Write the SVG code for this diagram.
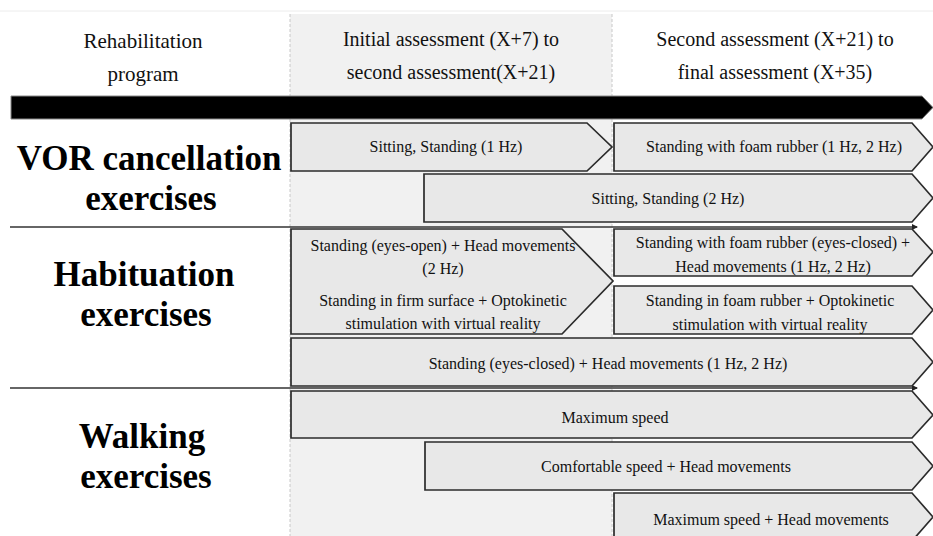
<svg xmlns="http://www.w3.org/2000/svg" width="933" height="536" viewBox="0 0 933 536">
<style>
.hdr{font-family:"Liberation Serif","Times New Roman",serif;font-size:20px;fill:#111;text-anchor:middle}
.lbl{font-family:"Liberation Serif","Times New Roman",serif;font-size:35px;font-weight:bold;fill:#000;text-anchor:middle}
.t{font-family:"Liberation Serif","Times New Roman",serif;font-size:16px;fill:#111;text-anchor:middle}
.chev{fill:#e8e8e8;stroke:#2b2b2b;stroke-width:1.7}
.sep{stroke:#333;stroke-width:1.6;fill:none}
.dash{stroke:#c8c8c8;stroke-width:1;stroke-dasharray:3 2;fill:none}
</style>
<defs>
<marker id="ah" viewBox="0 0 6 6" refX="5" refY="3" markerWidth="6" markerHeight="6" markerUnits="userSpaceOnUse" orient="auto">
<path d="M0,0 L6,3 L0,6 z" fill="#222"/>
</marker>
</defs>
<rect x="0" y="0" width="933" height="536" fill="#fff"/>
<line x1="0" y1="11" x2="933" y2="11" stroke="#ececec" stroke-width="1"/>
<rect x="290" y="14" width="322" height="522" fill="#f1f1f1"/>
<line class="dash" x1="290" y1="14" x2="290" y2="536"/>
<line class="dash" x1="612" y1="14" x2="612" y2="536"/>

<g id="header">
<text class="hdr" x="143" y="48" style="font-size:21px">Rehabilitation</text>
<text class="hdr" x="143" y="81" style="font-size:21px">program</text>
<text class="hdr" x="451" y="46">Initial assessment (X+7) to</text>
<text class="hdr" x="451" y="79">second assessment(X+21)</text>
<text class="hdr" x="775" y="46">Second assessment (X+21) to</text>
<text class="hdr" x="775" y="79">final assessment (X+35)</text>
</g>

<g id="timeline">
<polygon points="11,96 922,96 933,107.5 922,119 11,119" fill="#000" stroke="#888" stroke-width="1"/>
</g>

<g id="connectors">
<line class="sep" x1="10" y1="227" x2="917" y2="227" marker-end="url(#ah)"/>
<line class="sep" x1="10" y1="388" x2="917" y2="388" marker-end="url(#ah)"/>
</g>

<g id="label-vor">
<text class="lbl" x="149" y="170">VOR cancellation</text>
<text class="lbl" x="151" y="210">exercises</text>
</g>
<g id="label-habituation">
<text class="lbl" x="144" y="286">Habituation</text>
<text class="lbl" x="146" y="326">exercises</text>
</g>
<g id="label-walking">
<text class="lbl" x="142" y="448">Walking</text>
<text class="lbl" x="146" y="488">exercises</text>
</g>

<g id="vor-1">
<polygon class="chev" points="291,123 587,123 612,147 587,171 291,171"/>
<text class="t" x="446" y="152">Sitting, Standing (1 Hz)</text>
</g>
<g id="vor-2">
<polygon class="chev" points="614,123 912,123 933,147 912,171 614,171"/>
<text class="t" x="774" y="152">Standing with foam rubber (1 Hz, 2 Hz)</text>
</g>
<g id="vor-3">
<polygon class="chev" points="424,174 912,174 933,198 912,222 424,222"/>
<text class="t" x="668" y="204">Sitting, Standing (2 Hz)</text>
</g>

<g id="hab-1">
<polygon class="chev" points="291,229 562,229 613,281 562,334 291,334"/>
<text class="t" x="443" y="251">Standing (eyes-open) + Head movements</text>
<text class="t" x="443" y="274">(2 Hz)</text>
<text class="t" x="443" y="306">Standing in firm surface + Optokinetic</text>
<text class="t" x="443" y="329">stimulation with virtual reality</text>
</g>
<g id="hab-2">
<polygon class="chev" points="614,229 912,229 933,252 912,276 614,276"/>
<text class="t" x="773" y="248">Standing with foam rubber (eyes-closed) +</text>
<text class="t" x="773" y="272">Head movements (1 Hz, 2 Hz)</text>
</g>
<g id="hab-3">
<polygon class="chev" points="614,286 912,286 933,310 912,334 614,334"/>
<text class="t" x="770" y="306">Standing in foam rubber + Optokinetic</text>
<text class="t" x="770" y="330">stimulation with virtual reality</text>
</g>
<g id="hab-4">
<polygon class="chev" points="291,338 912,338 933,362 912,386 291,386"/>
<text class="t" x="608" y="369">Standing (eyes-closed) + Head movements (1 Hz, 2 Hz)</text>
</g>

<g id="walk-1">
<polygon class="chev" points="291,391 912,391 933,415 912,438 291,438"/>
<text class="t" x="615" y="423">Maximum speed</text>
</g>
<g id="walk-2">
<polygon class="chev" points="425,442 912,442 933,466 912,490 425,490"/>
<text class="t" x="666" y="472">Comfortable speed + Head movements</text>
</g>
<g id="walk-3">
<polygon class="chev" points="614,493 912,493 933,517 912,541 614,541"/>
<text class="t" x="771" y="525">Maximum speed + Head movements</text>
</g>
</svg>
